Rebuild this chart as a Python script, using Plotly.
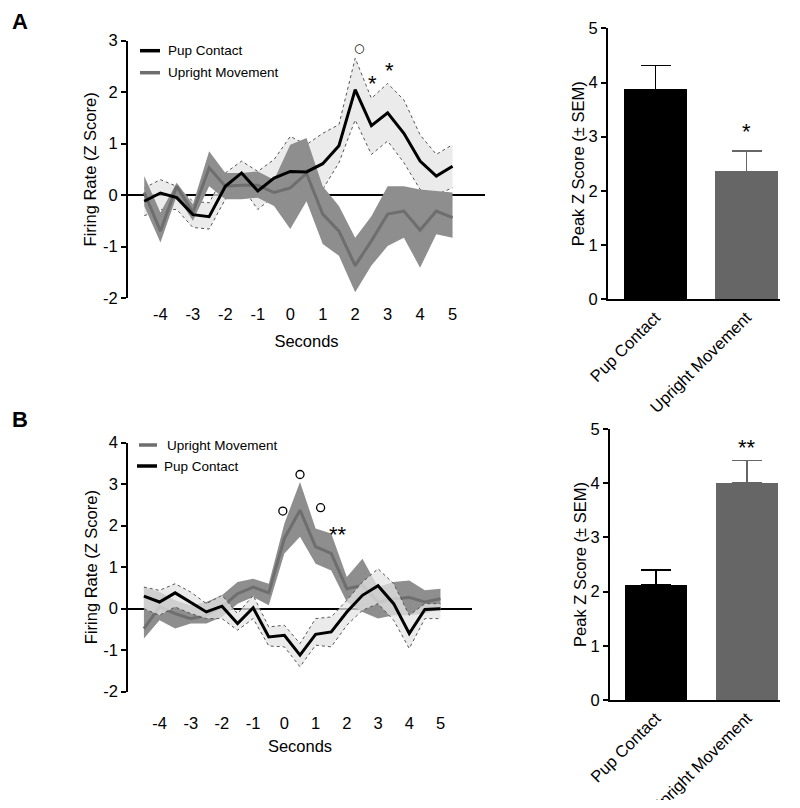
import plotly.graph_objects as go

# time bins (s)
t = [-4.5, -4, -3.5, -3, -2.5, -2, -1.5, -1, -0.5, 0, 0.5, 1, 1.5, 2, 2.5, 3, 3.5, 4, 4.5, 5]

# panel A - pup contact
a_pup = [-0.12, 0.04, -0.05, -0.38, -0.42, 0.17, 0.43, 0.08, 0.33, 0.46, 0.45, 0.61, 0.96, 2.05, 1.35, 1.6, 1.2, 0.66, 0.37, 0.56]
a_pup_hi = [0.14, 0.3, 0.17, -0.12, -0.15, 0.43, 0.66, 0.46, 0.69, 1.14, 0.98, 1.2, 1.37, 2.66, 1.88, 2.17, 1.85, 1.17, 0.79, 0.98]
a_pup_lo = [-0.4, -0.28, -0.28, -0.63, -0.66, -0.08, 0.17, -0.28, -0.02, -0.21, -0.05, 0.11, 0.63, 1.46, 0.79, 1.05, 0.63, 0.11, 0.01, 0.14]
# panel A - upright movement
a_up = [0.05, -0.7, 0.17, -0.34, 0.53, 0.17, 0.19, 0.19, 0.05, 0.14, 0.42, -0.37, -0.7, -1.37, -0.89, -0.37, -0.31, -0.68, -0.31, -0.44]
a_up_hi = [0.37, -0.34, 0.24, -0.18, 0.85, 0.43, 0.43, 0.46, 0.3, 0.98, 1.11, 0.17, -0.21, -0.83, -0.41, 0.17, 0.17, 0.11, 0.08, 0.05]
a_up_lo = [-0.21, -0.92, -0.02, -0.5, 0.17, -0.08, -0.08, -0.05, -0.21, -0.66, -0.12, -0.95, -1.18, -1.89, -1.37, -0.99, -0.83, -1.41, -0.76, -0.83]

# panel B - upright movement
b_up = [-0.48, 0.04, -0.12, -0.24, -0.16, 0.04, 0.36, 0.52, 0.38, 1.69, 2.37, 1.49, 1.33, 0.48, 0.56, 0.16, 0.24, 0.27, 0.16, 0.24]
b_up_hi = [0.52, 0.4, 0.2, 0.08, 0.16, 0.32, 0.64, 0.72, 0.6, 2.05, 3.05, 1.93, 1.81, 0.76, 1.2, 0.52, 0.64, 0.68, 0.44, 0.48]
b_up_lo = [-0.72, -0.28, -0.48, -0.36, -0.36, -0.2, 0.12, 0.28, 0.08, 1.33, 1.73, 1.08, 0.92, 0.16, -0.08, -0.24, -0.16, -0.16, -0.12, 0.0]
# panel B - pup contact
b_pup = [0.3, 0.16, 0.38, 0.16, -0.08, 0.06, -0.36, 0.02, -0.68, -0.64, -1.12, -0.62, -0.56, -0.08, 0.32, 0.55, 0.12, -0.6, -0.02, 0.0]
b_pup_hi = [0.52, 0.44, 0.6, 0.4, 0.12, 0.32, -0.12, 0.32, -0.44, -0.4, -0.84, -0.24, -0.2, 0.2, 0.64, 0.96, 0.6, -0.16, 0.12, 0.12]
b_pup_lo = [0.0, -0.16, 0.04, -0.12, -0.24, -0.24, -0.52, -0.24, -0.9, -0.92, -1.4, -0.88, -0.92, -0.4, -0.04, 0.12, -0.28, -0.96, -0.24, -0.24]

# peak z score bars
groups = ['Pup Contact', 'Upright Movement']
a_peak = [3.87, 2.36]
a_sem = [0.44, 0.38]
b_peak = [2.13, 4.0]
b_sem = [0.27, 0.42]

# significance marks: open circles and asterisks
a_circ_x = [2.12]
a_circ_y = [3.03]
a_star_x = [2.52, 3.05]
a_star_y = [2.28, 2.53]
a_star_txt = ['*', '*']
b_circ_x = [-0.05, 0.5, 1.16]
b_circ_y = [2.35, 3.23, 2.43]
b_star_x = [1.71]
b_star_y = [1.93]
b_star_txt = ['**']

x_ticks = [-4, -3, -2, -1, 0, 1, 2, 3, 4, 5]

BLACK = '#000000'
GRAY_LINE = '#6e6e6e'
GRAY_BAND = '#8e8e8e'
LIGHT_BAND = 'rgba(228,228,228,0.75)'
FONT = 'Liberation Sans, Arial, sans-serif'

# the page body has an 8px margin, so size the figure to fit the window and map page pixels to paper
W, H, OFF = 784, 792, 8


def fx(p):
    return (p - OFF) / W


def fy(p):
    return 1 - (p - OFF) / H


fig = go.Figure()


def light_band(hi, lo, xa, ya):
    edge = dict(color='#555555', width=1, dash='dot')
    fig.add_trace(go.Scatter(x=t, y=hi, mode='lines', line=edge, xaxis=xa, yaxis=ya, showlegend=False))
    fig.add_trace(go.Scatter(x=t, y=lo, mode='lines', line=edge, fill='tonexty', fillcolor=LIGHT_BAND,
                             xaxis=xa, yaxis=ya, showlegend=False))


def dark_band(hi, lo, xa, ya):
    fig.add_trace(go.Scatter(x=t, y=hi, mode='lines', line=dict(width=0, color=GRAY_BAND), xaxis=xa, yaxis=ya,
                             showlegend=False))
    fig.add_trace(go.Scatter(x=t, y=lo, mode='lines', line=dict(width=0, color=GRAY_BAND), fill='tonexty',
                             fillcolor=GRAY_BAND, xaxis=xa, yaxis=ya, showlegend=False))


def mean_line(y, color, xa, ya):
    fig.add_trace(go.Scatter(x=t, y=y, mode='lines', line=dict(color=color, width=3), xaxis=xa, yaxis=ya,
                             showlegend=False))


def circles(xs, ys, xa, ya):
    fig.add_trace(go.Scatter(x=xs, y=ys, mode='markers', cliponaxis=False, xaxis=xa, yaxis=ya, showlegend=False,
                             marker=dict(symbol='circle-open', size=8, color='black', line=dict(width=1.3))))


# panel A, time course
light_band(a_pup_hi, a_pup_lo, 'x', 'y')
dark_band(a_up_hi, a_up_lo, 'x', 'y')
mean_line(a_up, GRAY_LINE, 'x', 'y')
mean_line(a_pup, BLACK, 'x', 'y')

# panel B, time course
dark_band(b_up_hi, b_up_lo, 'x3', 'y3')
mean_line(b_up, GRAY_LINE, 'x3', 'y3')
light_band(b_pup_hi, b_pup_lo, 'x3', 'y3')
mean_line(b_pup, BLACK, 'x3', 'y3')
circles(b_circ_x, b_circ_y, 'x3', 'y3')

# the circle in A sits above the axis range, so it is placed on the axis domain as a text mark
for x, y in zip(a_circ_x, a_circ_y):
    fig.add_annotation(x=x, y=(y + 2) / 5, xref='x', yref='y domain', text='○', showarrow=False,
                       font=dict(size=12, color='black', family='DejaVu Sans'))

# bars
bar_colors = [BLACK, '#666666']
for peak, sem, xa, ya in [(a_peak, a_sem, 'x2', 'y2'), (b_peak, b_sem, 'x4', 'y4')]:
    for i in range(2):
        fig.add_trace(go.Bar(x=[groups[i]], y=[peak[i]], width=0.69, marker=dict(color=bar_colors[i], line_width=0),
                             error_y=dict(type='data', array=[sem[i]], arrayminus=[0], symmetric=False,
                                          color=bar_colors[i], thickness=1.5, width=15),
                             xaxis=xa, yaxis=ya, showlegend=False))

# asterisks
star_font = dict(size=22, color='black', family=FONT)
for xs, ys, txts, xa, ya in [(a_star_x, a_star_y, a_star_txt, 'x', 'y'), (b_star_x, b_star_y, b_star_txt, 'x3', 'y3')]:
    for x, y, s in zip(xs, ys, txts):
        fig.add_annotation(x=x, y=y, xref=xa, yref=ya, text=s, showarrow=False, font=star_font, yshift=-6)
fig.add_annotation(x=groups[1], y=3.2, xref='x2', yref='y2', text='*', showarrow=False, font=star_font, yshift=-6)
fig.add_annotation(x=groups[1], y=4.77, xref='x4', yref='y4', text='**', showarrow=False, font=star_font, yshift=-6)

# panel letters
for letter, py in [('A', 22), ('B', 419)]:
    fig.add_annotation(x=fx(20), y=fy(py), xref='paper', yref='paper', text='<b>%s</b>' % letter, showarrow=False,
                       xanchor='center', yanchor='middle', font=dict(size=22, color='black', family=FONT))

# legends drawn by hand
legend_items = [
    ('Pup Contact', BLACK, 140, 160, 166, 50.7),
    ('Upright Movement', GRAY_LINE, 140, 160, 166, 72.7),
    ('Upright Movement', GRAY_LINE, 139, 157, 165, 445),
    ('Pup Contact', BLACK, 137, 157, 162, 466),
]
for label, color, x0, x1, xt, yy in legend_items:
    fig.add_shape(type='line', xref='paper', yref='paper', x0=fx(x0), x1=fx(x1), y0=fy(yy), y1=fy(yy),
                  line=dict(color=color, width=3.5))
    fig.add_annotation(x=fx(xt), y=fy(yy), xref='paper', yref='paper', text=label, showarrow=False,
                       xanchor='left', yanchor='middle', font=dict(size=13.5, color='black', family=FONT))

tick_font = dict(size=16.5, color='black', family=FONT)
line_x = dict(range=[-5, 6], tickvals=x_ticks, ticktext=[str(v) for v in x_ticks], showline=False,
              showgrid=False, zeroline=False, ticks='', tickfont=tick_font, automargin=False)
line_y = dict(showline=True, linecolor='black', linewidth=2, ticks='outside', ticklen=5, tickwidth=2,
              tickcolor='black', showgrid=False, zeroline=True, zerolinecolor='black', zerolinewidth=2,
              tickfont=tick_font, automargin=False,
              title=dict(text='Firing Rate (Z Score)', font=tick_font, standoff=2))
bar_x = dict(showline=True, linecolor='black', linewidth=2, ticks='', showgrid=False, tickangle=-45,
             tickfont=tick_font, zeroline=False, automargin=False)
bar_y = dict(range=[0, 5], dtick=1, showline=True, linecolor='black', linewidth=2, ticks='outside', ticklen=5,
             tickwidth=2, tickcolor='black', showgrid=False, zeroline=False, tickfont=tick_font, automargin=False,
             title=dict(text='Peak Z Score (± SEM)', font=tick_font, standoff=0))

a_yt = [-2, -1, 0, 1, 2, 3]
b_yt = [-2, -1, 0, 1, 2, 3, 4]

fig.update_layout(
    template='none',
    width=W, height=H, margin=dict(l=0, r=0, t=0, b=0),
    paper_bgcolor='white', plot_bgcolor='white', font=dict(family=FONT, color='black'),
    bargap=0,
    xaxis=dict(line_x, domain=[fx(128), fx(485)], anchor='y', ticklabelstandoff=4,
               title=dict(text='Seconds', font=tick_font, standoff=13)),
    yaxis=dict(line_y, domain=[fy(298), fy(40.7)], range=[-2, 3], anchor='x',
               tickvals=a_yt, ticktext=[str(v) for v in a_yt]),
    xaxis2=dict(bar_x, domain=[fx(608), fx(780)], range=[-0.522, 1.368], anchor='y2'),
    yaxis2=dict(bar_y, domain=[fy(299.3), fy(28.3)], anchor='x2'),
    xaxis3=dict(line_x, domain=[fx(128.3), fx(471.7)], anchor='y3', ticklabelstandoff=20,
                title=dict(text='Seconds', font=tick_font, standoff=9)),
    yaxis3=dict(line_y, domain=[fy(691.7), fy(442.5)], range=[-2, 4], anchor='x3',
                tickvals=b_yt, ticktext=[str(v) for v in b_yt]),
    xaxis4=dict(bar_x, domain=[fx(610), fx(780)], range=[-0.505, 1.363], anchor='y4'),
    yaxis4=dict(bar_y, domain=[fy(700), fy(429)], anchor='x4'),
)

fig.write_html('out.html')
